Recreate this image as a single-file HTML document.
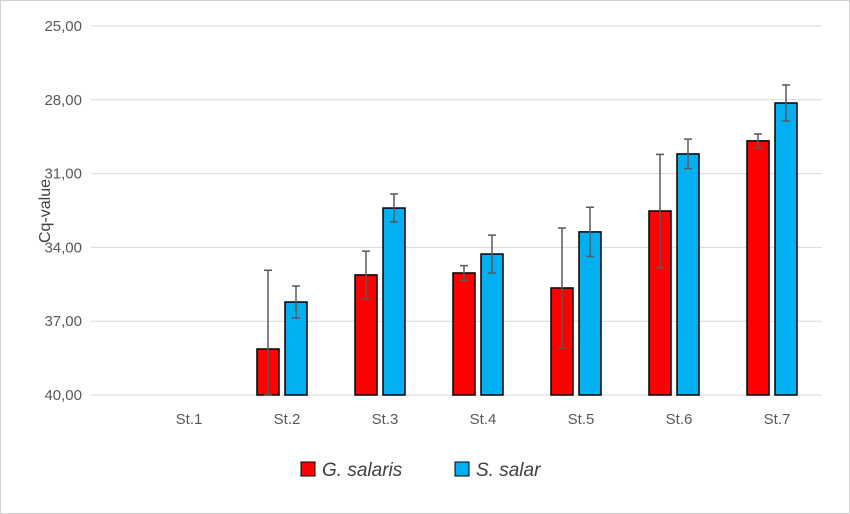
<!DOCTYPE html>
<html><head><meta charset="utf-8"><style>
body{margin:0;background:#fff}
svg{display:block;font-family:"Liberation Sans",sans-serif}
</style></head><body>
<svg id="c" width="850" height="514">
<rect x="0.5" y="0.5" width="849" height="513" fill="#fff" stroke="#d0d0d0"/>
<g id="grid"></g><g id="bars"></g>
<text transform="translate(50,211) rotate(-90)" text-anchor="middle" font-size="16" fill="#404040">Cq-value</text>
<g>
<rect x="301" y="462" width="14" height="14" fill="#ff0000" stroke="#000"/>
<text x="322" y="476" font-size="19" font-style="italic" fill="#404040">G. salaris</text>
<rect x="455" y="462" width="14" height="14" fill="#00b0f0" stroke="#000"/>
<text x="476" y="476" font-size="19" font-style="italic" fill="#404040">S. salar</text>
</g>
</svg>
<script>
const categories=["St.1","St.2","St.3","St.4","St.5","St.6","St.7"];
const gSalaris=[null,38.13,35.12,35.04,35.65,32.52,29.67];
const gErr=[null,3.2,0.97,0.3,2.44,2.3,0.28];
const sSalar=[null,36.22,32.40,34.27,33.37,30.20,28.13];
const sErr=[null,0.65,0.57,0.77,1.0,0.6,0.73];
const yTicks=[25,28,31,34,37,40];
const yTickLabels=["25,00","28,00","31,00","34,00","37,00","40,00"];
const NS="http://www.w3.org/2000/svg";
const y=v=>26+(v-25)*(395-26)/15;
const x=i=>189+i*98;
function mk(t,a,p){const e=document.createElementNS(NS,t);for(const k in a)e.setAttribute(k,a[k]);p.appendChild(e);return e;}
const grid=document.getElementById('grid'),bars=document.getElementById('bars');
yTicks.forEach((t,i)=>{
 const l=mk('line',{x1:91,x2:822,y1:y(t),y2:y(t),stroke:'#d9d9d9'},grid);
 
 
 const tx=mk('text',{x:82,y:y(t)+5,'text-anchor':'end','font-size':15,fill:'#595959'},grid);
 tx.textContent=yTickLabels[i];
 
 
});
categories.forEach((c,i)=>{
 const tx=mk('text',{x:x(i),y:424,'text-anchor':'middle','font-size':15,fill:'#595959'},grid);
 tx.textContent=c;
 
 
 [[gSalaris,gErr,'#ff0000',-30,'g-salaris'],[sSalar,sErr,'#00b0f0',-2,'s-salar']].forEach(([vals,errs,col,off,nm])=>{
  const v=vals[i]; if(v==null)return;
  const r=mk('rect',{x:x(i)+off,y:y(v),width:22,height:y(40)-y(v),fill:col,stroke:'#000','stroke-width':1.5},bars);
  
  
  const cx=x(i)+off+11,e=errs[i];
  const y1=y(v-e),y2=Math.min(y(v+e),y(40));
  const g=mk('path',{d:`M${cx},${y1}V${y2}M${cx-4},${y1}H${cx+4}M${cx-4},${y2}H${cx+4}`,stroke:'#595959','stroke-width':1.5,fill:'none'},bars);
  
  
 });
});
</script>
</body></html>
